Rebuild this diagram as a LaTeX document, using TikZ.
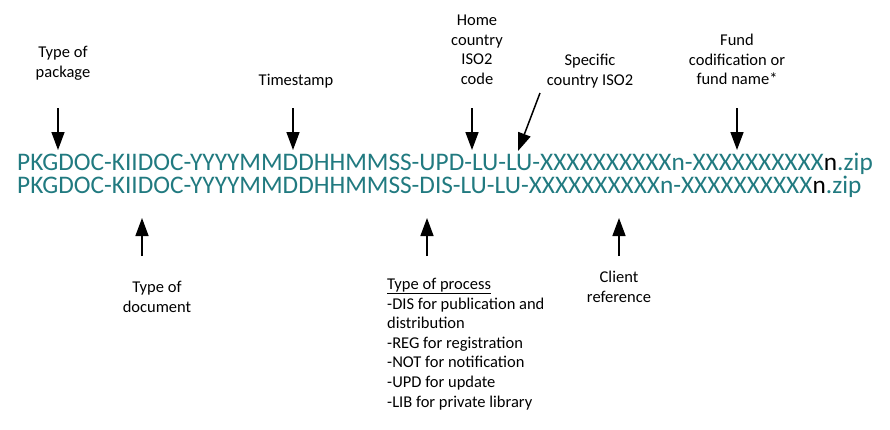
\documentclass[tikz,border=0pt]{standalone}
\usepackage{fontspec}
\setmainfont{Carlito}
\usetikzlibrary{arrows.meta}
\definecolor{fileteal}{RGB}{33,122,128}
\begin{document}
\begin{tikzpicture}[x=1pt,y=-1pt, every node/.style={inner sep=0pt,font=\fontsize{16.5}{19.6}\selectfont},
  lbl/.style={align=center,anchor=north},
  pointer/.style={line width=1.5pt,-{Triangle[width=13pt,length=18pt]}}]
  \useasboundingbox (0,0) rectangle (890,429);
  % the two file names
  \node[anchor=base west,text=fileteal,font=\fontsize{25.3}{29}\selectfont] (upd) at (17,170)
    {PKGDOC-KIIDOC-YYYYMMDDHHMMSS-UPD-LU-LU-XXXXXXXXXXn-XXXXXXXXXX\textcolor{black}{n}.zip};
  \node[anchor=base west,text=fileteal,font=\fontsize{25.3}{29}\selectfont] (dis) at (17,193)
    {PKGDOC-KIIDOC-YYYYMMDDHHMMSS-DIS-LU-LU-XXXXXXXXXXn-XXXXXXXXXX\textcolor{black}{n}.zip};
  % labels above
  \node[lbl] (pkg) at (63,46) {Type of\\package};
  \node[lbl] (time) at (296,74) {Timestamp};
  \node[lbl] (home) at (477,15) {Home\\country\\ISO2\\code};
  \node[lbl] (spec) at (590,54) {Specific\\country ISO2};
  \node[lbl] (fund) at (737,34) {Fund\\codification or\\fund name*};
  % labels below
  \node[lbl] (doc) at (157,281) {Type of\\document};
  \node[lbl] (client) at (619,271) {Client\\reference};
  \node[align=left,anchor=north west] (proc) at (387,278) {\underline{Type of process}\\-DIS for publication and\\distribution\\-REG for registration\\-NOT for notification\\-UPD for update\\-LIB for private library};
  % pointers
  \foreach \n/\x in {pkg/58,time/293,home/472,fund/737} {
    \coordinate (\n-tail) at (\x,108); \coordinate (\n-tip) at (\x,150);
    \draw[pointer] (\n-tail) -- (\n-tip);}
  \coordinate (spec-tail) at (540,93); \coordinate (spec-tip) at (518,151);
  \draw[pointer] (spec-tail) -- (spec-tip);
  \foreach \n/\x in {doc/142,proc/427,client/619} {
    \coordinate (\n-tail) at (\x,256); \coordinate (\n-tip) at (\x,218);
    \draw[pointer] (\n-tail) -- (\n-tip);}
\end{tikzpicture}
\end{document}
